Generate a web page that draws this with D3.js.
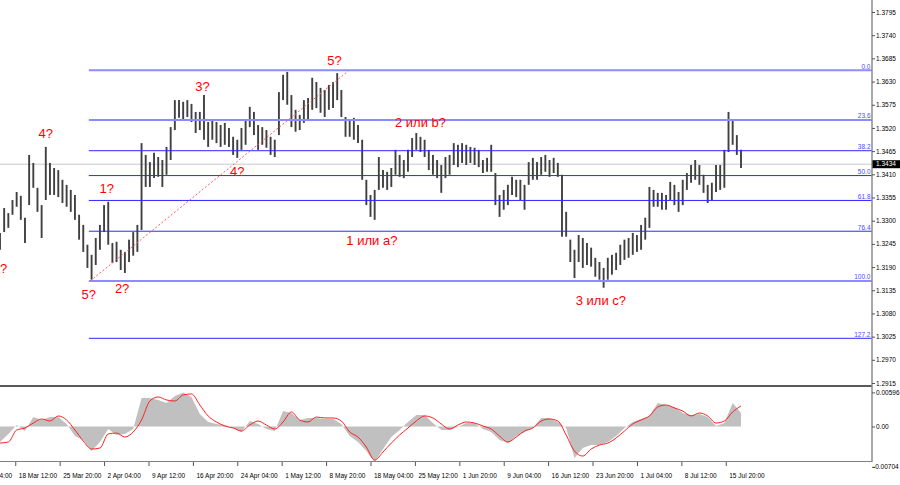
<!DOCTYPE html>
<html>
<head>
<meta charset="utf-8">
<script src="https://cdnjs.cloudflare.com/ajax/libs/d3/7.8.5/d3.min.js"></script>
<style>
body {margin:0; background:#fff;}
svg {display:block; font-family:'Liberation Sans', Arial, sans-serif;}
</style>
</head>
<body>
<svg></svg>
<script>
// GBP/USD H4, high and low of every 3rd bar
let highs = [
1.3271,1.3330,1.3318,1.3349,1.3368,1.3359,1.3307,1.3456,1.3437,1.3378,
1.3337,1.3475,1.3437,1.3425,1.3420,1.3397,1.3385,1.3373,1.3361,1.3314,
1.3290,1.3243,1.3219,1.3259,1.3290,1.3337,1.3345,1.3247,1.3250,1.3231,
1.3226,1.3255,1.3273,1.3290,1.3484,1.3456,1.3439,1.3461,1.3451,1.3444,
1.3475,1.3522,1.3586,1.3586,1.3582,1.3586,1.3577,1.3558,1.3558,1.3598,
1.3534,1.3539,1.3534,1.3527,1.3532,1.3520,1.3499,1.3492,1.3520,1.3539,
1.3570,1.3558,1.3527,1.3522,1.3515,1.3499,1.3492,1.3605,1.3646,1.3653,
1.3598,1.3563,1.3551,1.3586,1.3591,1.3639,1.3629,1.3615,1.3610,1.3622,
1.3629,1.3650,1.3610,1.3546,1.3539,1.3544,1.3527,1.3492,1.3397,1.3361,
1.3373,1.3451,1.3420,1.3416,1.3425,1.3468,1.3456,1.3444,1.3468,1.3496,
1.3508,1.3499,1.3492,1.3468,1.3456,1.3444,1.3432,1.3451,1.3456,1.3484,
1.3480,1.3484,1.3480,1.3475,1.3473,1.3468,1.3444,1.3449,1.3480,1.3413,
1.3361,1.3373,1.3385,1.3404,1.3397,1.3397,1.3385,1.3439,1.3449,1.3439,
1.3451,1.3456,1.3444,1.3449,1.3437,1.3409,1.3321,1.3255,1.3231,1.3266,
1.3259,1.3247,1.3236,1.3212,1.3202,1.3188,1.3212,1.3219,1.3224,1.3243,
1.3255,1.3259,1.3271,1.3266,1.3290,1.3307,1.3380,1.3373,1.3366,1.3366,
1.3361,1.3392,1.3385,1.3368,1.3397,1.3413,1.3432,1.3444,1.3432,1.3409,
1.3385,1.3390,1.3432,1.3432,1.3468,1.3558,1.3539,1.3503,1.3468
]
let lows = [
1.3231,1.3273,1.3283,1.3314,1.3333,1.3302,1.3247,1.3337,1.3378,1.3321,
1.3259,1.3349,1.3361,1.3361,1.3356,1.3342,1.3333,1.3321,1.3302,1.3255,
1.3226,1.3188,1.3160,1.3195,1.3231,1.3273,1.3243,1.3200,1.3202,1.3183,
1.3176,1.3202,1.3217,1.3226,1.3278,1.3380,1.3380,1.3401,1.3404,1.3380,
1.3409,1.3444,1.3515,1.3544,1.3539,1.3546,1.3534,1.3508,1.3515,1.3492,
1.3475,1.3492,1.3484,1.3475,1.3480,1.3475,1.3456,1.3449,1.3468,1.3480,
1.3522,1.3503,1.3468,1.3480,1.3473,1.3456,1.3451,1.3503,1.3586,1.3575,
1.3522,1.3511,1.3515,1.3532,1.3539,1.3563,1.3567,1.3556,1.3546,1.3563,
1.3567,1.3586,1.3546,1.3499,1.3499,1.3492,1.3484,1.3397,1.3337,1.3309,
1.3302,1.3373,1.3378,1.3373,1.3380,1.3409,1.3404,1.3401,1.3416,1.3451,
1.3468,1.3463,1.3451,1.3420,1.3409,1.3401,1.3366,1.3401,1.3409,1.3432,
1.3427,1.3437,1.3432,1.3437,1.3432,1.3427,1.3413,1.3416,1.3416,1.3337,
1.3309,1.3326,1.3337,1.3361,1.3356,1.3349,1.3326,1.3385,1.3397,1.3397,
1.3409,1.3416,1.3404,1.3413,1.3404,1.3262,1.3262,1.3202,1.3164,1.3202,
1.3188,1.3195,1.3191,1.3167,1.3160,1.3141,1.3160,1.3172,1.3183,1.3195,
1.3207,1.3212,1.3219,1.3226,1.3231,1.3255,1.3283,1.3333,1.3333,1.3326,
1.3326,1.3349,1.3337,1.3321,1.3337,1.3373,1.3390,1.3397,1.3385,1.3366,
1.3342,1.3349,1.3368,1.3373,1.3378,1.3463,1.3480,1.3456,1.3425
]

// MACD, every 6th bar
let macdMain = [
-0.00271,-0.00131,0.00026,-0.00079,0.00166,0.00114,0.00166,0.00166,0.00044,-0.00166,
-0.00236,-0.00429,-0.00271,-0.00044,-0.00149,-0.00131,-0.00044,0.00499,0.00499,0.00464,
0.00411,0.00534,0.00596,0.00516,0.00219,0.00079,0.00044,0.00026,-0.00026,-0.00096,
0.00096,0.00044,-0.00044,-0.00079,0.00271,0.00236,0.00114,0.00149,0.00149,0.00131,
0.00131,0.00044,-0.00166,-0.00271,-0.00429,-0.00621,-0.00394,-0.00184,-0.00061,0.00079,
0.00201,0.00201,0.00061,-0.00061,-0.00061,-0.00009,0.00061,0.00061,-0.00044,-0.00096,
-0.00236,-0.00289,-0.00166,-0.00096,-0.00026,0.00149,0.00149,0.00079,-0.00026,-0.00551,
-0.00376,-0.00324,-0.00324,-0.00271,-0.00166,-0.00026,0.00079,0.00131,0.00184,0.00411,
0.00376,0.00341,0.00236,0.00201,0.00219,0.00166,0.00009,0.00061,0.00411,0.00236
]
let macdSignal = [
-0.00289,-0.00271,-0.00061,-0.00026,0.00061,0.00131,0.00096,0.00184,0.00114,-0.00061,
-0.00254,-0.00394,-0.00376,-0.00131,-0.00114,-0.00184,-0.00096,0.00114,0.00446,0.00516,
0.00464,0.00446,0.00551,0.00569,0.00376,0.00184,0.00079,0.00009,-0.00026,-0.00079,
0.00026,0.00096,0.00026,-0.00044,0.00079,0.00254,0.00114,0.00079,0.00166,0.00149,
0.00149,0.00096,-0.00096,-0.00184,-0.00359,-0.00586,-0.00446,-0.00289,-0.00149,-0.00026,
0.00096,0.00184,0.00149,0.00044,-0.00044,0.00026,0.00079,0.00061,0.00009,-0.00044,
-0.00166,-0.00271,-0.00184,-0.00079,-0.00026,0.00096,0.00131,0.00096,-0.00149,-0.00429,
-0.00516,-0.00394,-0.00324,-0.00289,-0.00201,-0.00079,0.00044,0.00114,0.00184,0.00341,
0.00376,0.00324,0.00271,0.00184,0.00236,0.00184,0.00061,0.00096,0.00254,0.00359
]

let priceTicks = [1.3795,1.3740,1.3685,1.3630,1.3575,1.3520,1.3465,1.3410,1.3355,1.3300,1.3245,1.3190,1.3135,1.3080,1.3025,1.2970,1.2915]
let macdTicks = [0.00596, 0, -0.00704]
let macdTickText = ['0.00596', '0.00', '-0.00704']
let timeLabels = ['11 Mar 04:00','18 Mar 12:00','25 Mar 20:00','2 Apr 04:00','9 Apr 12:00','16 Apr 20:00','24 Apr 04:00','1 May 12:00','8 May 20:00','18 May 04:00','25 May 12:00','1 Jun 20:00','9 Jun 04:00','16 Jun 12:00','23 Jun 20:00','1 Jul 04:00','8 Jul 12:00','15 Jul 20:00']
let timeBars = [-21,11,43,75,107,139,171,203,235,267,299,331,363,395,427,459,491,523]

let lastPrice = 1.3434

let fibHigh = 1.3657
let fibLow = 1.3157
let fibStartBar = 64
let fibLevels = [0, 23.6, 38.2, 50.0, 61.8, 76.4, 100.0, 127.2]
let fibNames = ['0.0','23.6','38.2','50.0','61.8','76.4','100.0','127.2']

let trendBars = [65, 251]
let trendPrices = [1.3157, 1.3655]

let waveText = ['3?','4?','5?','1?','2?','3?','4?','5?','1 или a?','2 или b?','3 или c?']
let waveBars = [0, 33, 64, 77, 88, 146, 171, 241, 268, 303, 433]
let wavePrices = [1.3176, 1.3496, 1.3114, 1.3366, 1.3129, 1.3608, 1.3406, 1.3669, 1.3243, 1.3522, 1.3100]

let width = 900
let height = 485
let axisX = 872
let barStep = 3
let macdStep = 6

let svg = d3.select('svg')

let xScale
let yScale
let macdScale

let drawCanvas = () => {
    svg.attr('width', width)
    svg.attr('height', height)
    let defs = svg.append('defs')
    defs.append('clipPath').attr('id', 'mainClip')
        .append('rect').attr('x', 0).attr('y', 0).attr('width', axisX).attr('height', 385)
    defs.append('clipPath').attr('id', 'indClip')
        .append('rect').attr('x', 0).attr('y', 388).attr('width', axisX).attr('height', 76)
}

let generateScales = () => {
    xScale = d3.scaleLinear().domain([0, 534]).range([0, 741])
    yScale = d3.scaleLinear().domain([1.2915, 1.3795]).range([383, 12])
    macdScale = d3.scaleLinear().domain([-0.00704, 0.00596]).range([466.8, 392.4])
}

let drawMain = () => {
    let main = svg.append('g').attr('clip-path', 'url(#mainClip)')

    // last price line
    main.append('line')
        .attr('x1', 0).attr('x2', axisX)
        .attr('y1', yScale(lastPrice)).attr('y2', yScale(lastPrice))
        .attr('stroke', '#c8c8c8').attr('stroke-width', 1)

    // bars
    main.append('g').selectAll('line')
        .data(highs)
        .enter()
        .append('line')
        .attr('x1', (d, i) => xScale(i * barStep))
        .attr('x2', (d, i) => xScale(i * barStep))
        .attr('y1', (d) => yScale(d))
        .attr('y2', (d, i) => yScale(lows[i]))
        .attr('stroke', '#404040')
        .attr('stroke-width', 1.9)

    // fibo
    let fib = main.append('g')
    fibLevels.forEach((lv, i) => {
        let p = fibHigh - (fibHigh - fibLow) * lv / 100
        let light = (lv === 0 || lv === 23.6 || lv === 100)
        fib.append('line')
            .attr('x1', xScale(fibStartBar)).attr('x2', axisX)
            .attr('y1', yScale(p)).attr('y2', yScale(p))
            .attr('stroke', light ? '#8c8cff' : '#2a2aff')
            .attr('stroke-width', light ? 2 : 1)
        fib.append('text')
            .attr('x', axisX - 1.5).attr('y', yScale(p) - 1.5)
            .attr('text-anchor', 'end')
            .attr('font-size', '6.5px')
            .attr('fill', '#4a4aff')
            .text(fibNames[i])
    })

    // trend line
    main.append('line')
        .attr('x1', xScale(trendBars[0])).attr('y1', yScale(trendPrices[0]))
        .attr('x2', xScale(trendBars[1])).attr('y2', yScale(trendPrices[1]))
        .attr('stroke', '#ff5a5a').attr('stroke-width', 1)
        .attr('stroke-dasharray', '2,2')

    // wave labels
    main.append('g').selectAll('text')
        .data(waveText)
        .enter()
        .append('text')
        .attr('x', (d, i) => xScale(waveBars[i]))
        .attr('y', (d, i) => yScale(wavePrices[i]))
        .attr('text-anchor', 'middle')
        .attr('font-size', '13px')
        .attr('fill', '#ff0000')
        .text((d) => d)
}

let drawIndicator = () => {
    let ind = svg.append('g').attr('clip-path', 'url(#indClip)')

    let area = d3.area()
        .x((d, i) => xScale(i * macdStep))
        .y0(macdScale(0))
        .y1((d) => macdScale(d))
    ind.append('path')
        .datum(macdMain)
        .attr('d', area)
        .attr('fill', '#c0c0c0')

    let line = d3.line()
        .x((d, i) => xScale(i * macdStep))
        .y((d) => macdScale(d))
        .curve(d3.curveMonotoneX)
    ind.append('path')
        .datum(macdSignal)
        .attr('d', line)
        .attr('fill', 'none')
        .attr('stroke', '#ff2020')
        .attr('stroke-width', 1)
}

let generateAxes = () => {
    // frame lines
    svg.append('line').attr('x1', 0).attr('x2', axisX).attr('y1', 386).attr('y2', 386)
        .attr('stroke', '#5a5a5a').attr('stroke-width', 2)
    svg.append('line').attr('x1', 0).attr('x2', axisX).attr('y1', 461.5).attr('y2', 461.5)
        .attr('stroke', '#808080').attr('stroke-width', 1)
    svg.append('line').attr('x1', axisX).attr('x2', axisX).attr('y1', 0).attr('y2', 462)
        .attr('stroke', '#8c8c8c').attr('stroke-width', 1.5)

    let yAxis = d3.axisRight(yScale)
        .tickValues(priceTicks)
        .tickFormat(d3.format('.4f'))
        .tickSize(3)
        .tickPadding(1)
    let gy = svg.append('g')
        .attr('transform', 'translate(' + axisX + ',0)')
        .call(yAxis)
    gy.select('.domain').remove()

    let mAxis = d3.axisRight(macdScale)
        .tickValues(macdTicks)
        .tickFormat((d, i) => macdTickText[i])
        .tickSize(3)
        .tickPadding(1)
    let gm = svg.append('g')
        .attr('transform', 'translate(' + axisX + ',0)')
        .call(mAxis)
    gm.select('.domain').remove()
    gm.selectAll('text').attr('dx', (d) => d < 0 ? -3 : 0)

    let xAxis = d3.axisBottom(xScale)
        .tickValues(timeBars)
        .tickFormat((d, i) => timeLabels[i])
        .tickSize(4)
    let gx = svg.append('g')
        .attr('transform', 'translate(0,462)')
        .call(xAxis)
    gx.select('.domain').remove()
    gx.selectAll('text')
        .attr('text-anchor', 'start')
        .attr('x', 3)
        .attr('y', 11)

    svg.selectAll('.tick text')
        .attr('font-size', '6.5px')
        .attr('font-family', "'Liberation Sans', Arial, sans-serif")
        .attr('fill', '#000')
    svg.selectAll('.tick line').attr('stroke', '#555')

    // last price tag
    let yp = yScale(lastPrice)
    svg.append('rect')
        .attr('x', axisX + 0.5).attr('y', yp - 4)
        .attr('width', width - axisX).attr('height', 8)
        .attr('fill', '#000')
    svg.append('text')
        .attr('x', axisX + 4).attr('y', yp)
        .attr('dy', '0.32em')
        .attr('font-size', '6.5px')
        .attr('fill', '#fff')
        .text(lastPrice.toFixed(4))
}

drawCanvas()
generateScales()
drawMain()
drawIndicator()
generateAxes()
</script>
</body>
</html>
